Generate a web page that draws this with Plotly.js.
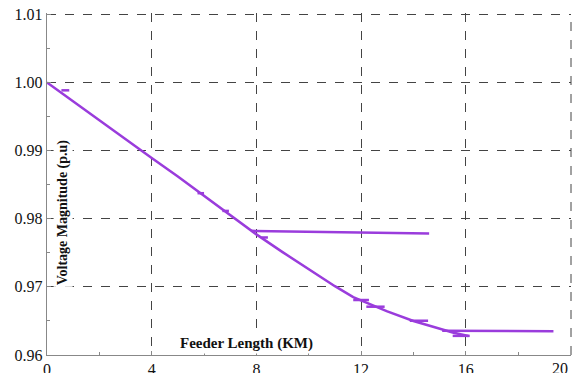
<!DOCTYPE html>
<html>
<head>
<meta charset="utf-8">
<script src="https://cdn.plot.ly/plotly-3.0.1.min.js"></script>
<style>html,body{margin:0;padding:0;background:#fff;}#chart{width:572px;height:373px;}</style>
</head>
<body>
<div id="chart"></div>
<script>
// Main feeder profile (km, p.u.)
const mainX = [0, 1, 2, 3, 4, 5, 6, 7, 8, 9, 10, 11, 11.7, 12, 13, 14, 15, 15.5, 16.1];
const mainY = [1.0000, 0.9972, 0.9944, 0.9917, 0.9889, 0.9862, 0.9834, 0.9806, 0.9777, 0.9751, 0.9726, 0.9701, 0.9685, 0.9680, 0.9664, 0.9650, 0.9638, 0.9633, 0.9628];
// Lateral branch starting near 8 km
const branchAX = [7.8, 10, 12, 14.6];
const branchAY = [0.97822, 0.97810, 0.97795, 0.97785];
// Lateral branch starting near 15 km
const branchBX = [15.1, 17, 19.35];
const branchBY = [0.96356, 0.96352, 0.96347];
// Short laterals (start km, end km, voltage)
const stubStartX = [0.55, 5.75, 6.7, 8.19, 11.7, 12.2, 13.86, 15.5];
const stubEndX   = [0.85, 6.0, 6.95, 8.44, 12.3, 12.9, 14.56, 16.15];
const stubY      = [0.99885, 0.98375, 0.98115, 0.97725, 0.96807, 0.96709, 0.96503, 0.96281];

const xTicks = [0, 4, 8, 12, 16, 20];
const xTickText = ['0', '4', '8', '12', '16', '20'];
const yTicks = [0.96, 0.97, 0.98, 0.99, 1.00, 1.01];
const yTickText = ['0.96', '0.97', '0.98', '0.99', '1.00', '1.01'];

const stubX = [], stubYs = [];
for (let i = 0; i < stubStartX.length; i++) {
  stubX.push(stubStartX[i], stubEndX[i], null);
  stubYs.push(stubY[i], stubY[i], null);
}

const col = '#9a3cdc';
const lineStyle = {color: col, width: 2.5};
const traces = [
  {x: mainX, y: mainY, mode: 'lines', line: lineStyle, hoverinfo: 'skip'},
  {x: branchAX, y: branchAY, mode: 'lines', line: lineStyle, hoverinfo: 'skip'},
  {x: branchBX, y: branchBY, mode: 'lines', line: lineStyle, hoverinfo: 'skip'},
  {x: stubX, y: stubYs, mode: 'lines', line: {color: col, width: 2.5}, hoverinfo: 'skip', connectgaps: false}
];

const serif = 'Liberation Serif, Times New Roman, serif';
const tickFont = {family: serif, size: 16, color: '#111'};
// last x tick label is drawn right-aligned at the edge (as in the source figure)
const lastIdx = xTicks.length - 1;
const xTickTextShown = xTickText.map((t, i) => i === lastIdx ? '' : t);

const layout = {
  width: 572, height: 373,
  margin: {l: 47, r: 1, t: 13, b: 18},
  paper_bgcolor: '#fff', plot_bgcolor: '#fff',
  showlegend: false,
  xaxis: {
    range: [0, 20.02], tickvals: xTicks, ticktext: xTickTextShown,
    showgrid: true, gridcolor: '#444', griddash: 'dash', gridwidth: 1,
    showline: true, linecolor: '#888', linewidth: 1.2,
    ticks: 'inside', ticklen: 4, tickcolor: '#888',
    minor: {dtick: 2, tick0: 0, ticks: 'inside', ticklen: 3, tickcolor: '#888', showgrid: false},
    zeroline: false, tickfont: tickFont, fixedrange: true
  },
  yaxis: {
    range: [0.96, 1.0102], tickvals: yTicks, ticktext: yTickText,
    showgrid: true, gridcolor: '#444', griddash: 'dash', gridwidth: 1,
    showline: true, linecolor: '#888', linewidth: 1.2,
    ticks: 'inside', ticklen: 4, tickcolor: '#888',
    minor: {dtick: 0.005, tick0: 0.96, ticks: 'inside', ticklen: 3, tickcolor: '#888', showgrid: false},
    zeroline: false, tickfont: tickFont, fixedrange: true
  },
  shapes: [
    {type: 'line', xref: 'paper', yref: 'paper', x0: 1, x1: 1, y0: 0, y1: 1, line: {color: '#444', width: 1, dash: 'dash'}}
  ],
  annotations: [
    {text: '<b>Voltage Magnitude (p.u)</b>', xref: 'x', yref: 'y', x: 0.6, y: 0.9809, textangle: -90,
     showarrow: false, bgcolor: '#fff', borderpad: 1,
     font: {family: serif, size: 14, color: '#111'}},
    {text: '<b>Feeder Length (KM)</b>', xref: 'x', yref: 'y', x: 7.63, y: 0.96176,
     showarrow: false, bgcolor: '#fff', borderpad: 1,
     font: {family: serif, size: 15, color: '#111'}},
    {text: xTickText[lastIdx], xref: 'x', yref: 'paper', x: xTicks[lastIdx], y: 0,
     xanchor: 'right', yanchor: 'top', yshift: -3, showarrow: false,
     font: tickFont}
  ]
};
Plotly.newPlot('chart', traces, layout, {staticPlot: true, displayModeBar: false});
</script>
</body>
</html>
